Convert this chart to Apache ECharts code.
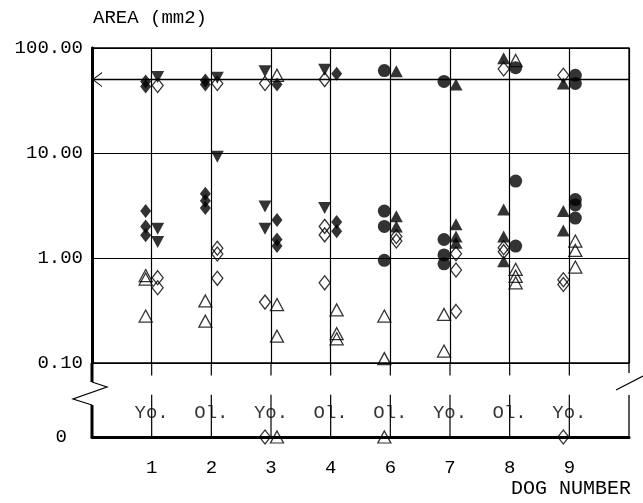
<!DOCTYPE html>
<html>
<head>
<meta charset="utf-8">
<script src="https://cdn.jsdelivr.net/npm/echarts@6/dist/echarts.min.js"></script>
<style>
  html, body { margin: 0; padding: 0; background: #fff; }
  #chart { width: 643px; height: 503px; }
</style>
</head>
<body>
<div id="chart"></div>
<script>
// dogs along the x axis and their age group
const dogs = ['1', '2', '3', '4', '6', '7', '8', '9'];
const ageGroup = ['Yo.', 'Ol.', 'Yo.', 'Ol.', 'Ol.', 'Yo.', 'Ol.', 'Yo.'];
const yTicks = [0.1, 1, 10, 100];

// area values (mm2) per dog, 0 = drawn on the zero line below the break
const filledDiamond = [[48, 43, 2.8, 2.0, 1.65], [49, 45, 4.1, 3.5, 3.0], [45, 2.3, 1.5, 1.3], [57, 2.2, 1.8], [], [], [], []];
const filledDown = [[53, 1.9, 1.42], [52, 9.2], [60, 3.1, 1.9], [62, 3.0], [], [], [], []];
const filledCircle = [[], [], [], [], [61, 2.8, 2.0, 0.95], [48, 1.5, 1.07, 0.88], [65, 5.4, 1.3], [55, 46, 3.6, 3.2, 2.4]];
const filledUp = [[], [], [], [], [60, 2.5, 2.0], [45, 2.1, 1.6, 1.4], [80, 2.9, 1.6, 0.93], [46, 2.8, 1.83]];
const openDiamond = [[44, 0.65, 0.52], [46, 1.24, 1.09, 0.64], [46, 0.38, 0], [50, 2.0, 1.66, 0.58], [1.6, 1.45], [1.1, 0.77, 0.31], [63, 1.25, 1.15], [55, 0.62, 0.56, 0]];
const openUp = [[0.68, 0.63, 0.28], [0.39, 0.25], [55, 0.36, 0.18, 0], [0.32, 0.19, 0.17], [0.28, 0.11, 0], [0.29, 0.13], [76, 0.78, 0.67, 0.58], [1.45, 1.18, 0.82]];
const refLine = 50;

// which side of the dog's line each marker sits on (-1 left, 1 right)
const side = {
  filledDiamond: [-1, -1, 1, 1, 0, 0, 0, 0],
  filledDown: [1, 1, -1, -1, 0, 0, 0, 0],
  filledCircle: [0, 0, 0, 0, -1, -1, 1, 1],
  filledUp: [0, 0, 0, 0, 1, 1, -1, -1],
  openDiamond: [1, 1, -1, -1, 1, 1, -1, -1],
  openUp: [-1, -1, 1, 1, -1, -1, 1, 1]
};

const FONT = "'Liberation Mono', 'DejaVu Sans Mono', monospace";
const L = 92, R = 629, T = 48, B1 = 363, B2 = 437;
const W = 643;

const chart = echarts.init(document.getElementById('chart'));

function build(name, values, symbol, size, rotate, open) {
  const top = [], zero = [];
  values.forEach((list, i) => {
    list.forEach(v => {
      const item = { value: [i + 1, v], symbolOffset: [side[name][i] * 6, 0] };
      (v > 0 ? top : zero).push(item);
    });
  });
  const style = open
    ? { color: 'rgba(255,255,255,0)', borderColor: '#000', borderWidth: 1.3 }
    : { color: '#000' };
  const base = { type: 'scatter', symbol: symbol, symbolSize: size, symbolRotate: rotate, itemStyle: style, z: open ? 4 : 5 };
  return [
    Object.assign({}, base, { name: name, xAxisIndex: 0, yAxisIndex: 0, data: top }),
    Object.assign({}, base, { name: name + '0', xAxisIndex: 1, yAxisIndex: 1, data: zero })
  ];
}

const series = [].concat(
  build('filledDiamond', filledDiamond, 'diamond', [11, 14], 0, false),
  build('filledDown', filledDown, 'triangle', [13, 12], 180, false),
  build('filledCircle', filledCircle, 'circle', 13, 0, false),
  build('filledUp', filledUp, 'triangle', [13, 12], 0, false),
  build('openDiamond', openDiamond, 'diamond', [11, 14], 0, true),
  build('openUp', openUp, 'triangle', [13, 12], 0, true)
);

// horizontal reference line at 50 with an open arrow at the left
// (tiny extra sub-path keeps the tip of the chevron on the line's start)
series[0].markLine = {
  silent: true,
  symbol: ['path://M0,10 L5,0 L10,10 L9.2,10 L5,1.6 L0.8,10 Z M5,-10 L5.02,-10 L5,-9.98 Z', 'none'],
  symbolSize: [15, 20],
  label: { show: false },
  lineStyle: { color: '#000', width: 1.3, type: 'solid' },
  data: [{ yAxis: refLine }]
};

// dog lines below the 0.10 line, broken where the axis is broken
series.push({
  type: 'custom',
  xAxisIndex: 1,
  yAxisIndex: 1,
  silent: true,
  data: dogs.map((d, i) => [i + 1]),
  renderItem: function (params, api) {
    const x = api.value(0);
    const a = api.coord([x, 1]), b = api.coord([x, 0.83]);
    const c = api.coord([x, 0.57]), d = api.coord([x, 0]);
    const st = { stroke: '#000', lineWidth: 1.2 };
    return {
      type: 'group',
      children: [
        { type: 'line', shape: { x1: a[0], y1: a[1], x2: b[0], y2: b[1] }, style: st },
        { type: 'line', shape: { x1: c[0], y1: c[1], x2: d[0], y2: d[1] }, style: st }
      ]
    };
  }
});

// Yo. / Ol. labels
series.push({
  type: 'scatter',
  xAxisIndex: 1,
  yAxisIndex: 1,
  symbolSize: 0,
  silent: true,
  data: ageGroup.map((g, i) => [i + 1, 0.32]),
  label: {
    show: true,
    position: 'inside',
    formatter: p => ageGroup[p.dataIndex],
    fontFamily: FONT,
    fontSize: 19,
    color: '#000'
  },
  z: 6
});

const option = {
  animation: false,
  backgroundColor: '#fff',
  title: [
    { text: 'AREA (mm2)', left: 88, top: 3, textStyle: { fontFamily: FONT, fontSize: 19, fontWeight: 'normal', color: '#000' } },
    { text: 'DOG NUMBER', right: 7, top: 474, textStyle: { fontFamily: FONT, fontSize: 20, fontWeight: 'normal', color: '#000' } }
  ],
  grid: [
    { left: L, top: T, width: R - L, height: B1 - T, show: true, borderColor: '#000', borderWidth: 1.3, backgroundColor: 'transparent' },
    { left: L, top: B1, width: R - L, height: B2 - B1 }
  ],
  xAxis: [
    {
      type: 'value', gridIndex: 0, min: 0, max: 9, interval: 1,
      axisLine: { show: false }, axisTick: { show: false }, axisLabel: { show: false },
      splitLine: { show: true, lineStyle: { color: '#000', width: 1.2 } }
    },
    {
      type: 'value', gridIndex: 1, min: 0, max: 9, interval: 1,
      axisLine: { show: true, lineStyle: { color: '#000', width: 3 } },
      axisTick: { show: false },
      splitLine: { show: false },
      axisLabel: {
        margin: 21, fontFamily: FONT, fontSize: 19, color: '#000',
        formatter: v => (v >= 1 && v <= dogs.length) ? dogs[v - 1] : ''
      }
    }
  ],
  yAxis: [
    {
      type: 'log', gridIndex: 0, logBase: 10, min: yTicks[0], max: yTicks[yTicks.length - 1],
      axisLine: { show: true, lineStyle: { color: '#000', width: 3 } },
      axisTick: { show: false },
      splitLine: { show: true, lineStyle: { color: '#000', width: 1.2 } },
      axisLabel: { margin: 9, fontFamily: FONT, fontSize: 19, color: '#000', formatter: v => Number(v).toFixed(2) }
    },
    {
      type: 'value', gridIndex: 1, min: 0, max: 1, interval: 1,
      axisLine: { show: false }, axisTick: { show: false }, splitLine: { show: false },
      axisLabel: { margin: 25, fontFamily: FONT, fontSize: 19, color: '#000', formatter: v => v === 0 ? '0' : '' }
    }
  ],
  graphic: [
    // left axis with its break
    { type: 'polyline', shape: { points: [[L, B1], [L, 382]] }, style: { stroke: '#000', lineWidth: 3, fill: null } },
    { type: 'polyline', shape: { points: [[L, 382], [107, 387], [73, 399], [L, 405]] }, style: { stroke: '#000', lineWidth: 1.2, fill: null } },
    { type: 'polyline', shape: { points: [[L, 405], [L, B2 + 1]] }, style: { stroke: '#000', lineWidth: 3, fill: null } },
    // right border with its break
    { type: 'line', shape: { x1: R, y1: B1, x2: R, y2: 373 }, style: { stroke: '#000', lineWidth: 1.3 } },
    { type: 'line', shape: { x1: 616, y1: 390, x2: W, y2: 376 }, style: { stroke: '#000', lineWidth: 1.2 } },
    { type: 'line', shape: { x1: R, y1: 395, x2: R, y2: B2 }, style: { stroke: '#000', lineWidth: 1.3 } }
  ],
  series: series
};

chart.setOption(option);
</script>
</body>
</html>
